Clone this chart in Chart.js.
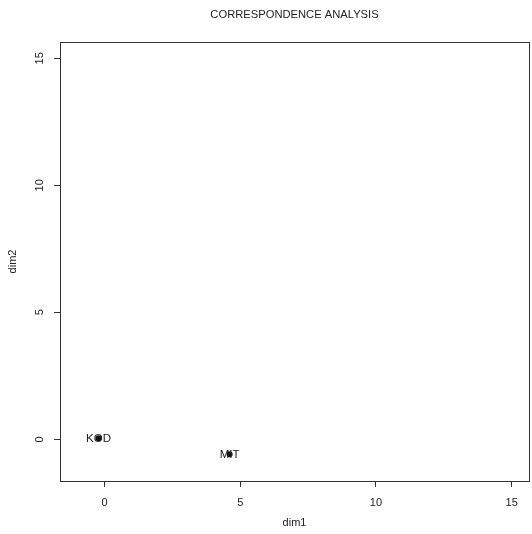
<!DOCTYPE html>
<html>
<head>
<meta charset="utf-8">
<script src="https://cdn.jsdelivr.net/npm/chart.js@4"></script>
<style>
  html, body { margin: 0; padding: 0; background: #fff; }
  #wrap { width: 532px; height: 534px; }
</style>
</head>
<body>
<div id="wrap"><canvas id="chart" width="532" height="534"></canvas></div>
<script>
// Correspondence analysis points
const pointLabels = ['KOD', 'MIT'];
const dim1 = [-0.22, 4.61];
const dim2 = [0.04, -0.59];

// Axis ticks and limits
const xTicks = [0, 5, 10, 15];
const yTicks = [0, 5, 10, 15];
const axisLimits = [-1.64, 15.64];

const inkColor = '#222';
const fontFamily = '"Liberation Sans", Arial, sans-serif';

// frame, title and point labels (R style)
const rPlotExtras = {
    id: 'rPlotExtras',
    afterDatasetsDraw(chart) {
        const ctx = chart.ctx;
        const area = chart.chartArea;
        ctx.save();
        ctx.strokeStyle = '#333';
        ctx.lineWidth = 1;
        ctx.strokeRect(area.left + 0.5, area.top + 0.5, area.right - area.left, area.bottom - area.top);

        ctx.fillStyle = inkColor;
        ctx.font = '11.2px ' + fontFamily;
        ctx.textAlign = 'center';
        ctx.textBaseline = 'middle';
        ctx.fillText('CORRESPONDENCE ANALYSIS', (area.left + area.right) / 2, 15);

        ctx.font = '11.5px ' + fontFamily;
        const meta = chart.getDatasetMeta(0);
        meta.data.forEach((pt, i) => {
            ctx.fillText(pointLabels[i], pt.x, pt.y + 1);
        });
        ctx.restore();
    }
};

new Chart(document.getElementById('chart'), {
    type: 'scatter',
    data: {
        datasets: [{
            data: dim1.map((x, i) => ({ x: x, y: dim2[i] })),
            backgroundColor: '#111',
            borderWidth: 0,
            pointRadius: 3,
            pointHoverRadius: 3
        }]
    },
    options: {
        responsive: false,
        animation: false,
        layout: { padding: { left: 0, top: 42, right: 0, bottom: 0 } },
        plugins: {
            legend: { display: false },
            tooltip: { enabled: false }
        },
        scales: {
            x: {
                type: 'linear',
                min: axisLimits[0],
                max: axisLimits[1],
                afterBuildTicks: (scale) => { scale.ticks = xTicks.map(v => ({ value: v })); },
                afterFit: (scale) => { scale.height = 53; },
                border: { display: false },
                grid: {
                    drawOnChartArea: false,
                    drawTicks: true,
                    tickLength: 6,
                    tickColor: '#333'
                },
                ticks: {
                    color: inkColor,
                    padding: 9,
                    maxRotation: 0,
                    font: { family: fontFamily, size: 11 }
                },
                title: {
                    display: true,
                    text: 'dim1',
                    color: inkColor,
                    padding: 4,
                    font: { family: fontFamily, size: 11 }
                }
            },
            y: {
                type: 'linear',
                min: axisLimits[0],
                max: axisLimits[1],
                afterBuildTicks: (scale) => { scale.ticks = yTicks.map(v => ({ value: v })); },
                afterFit: (scale) => { scale.width = 60; },
                border: { display: false },
                grid: {
                    drawOnChartArea: false,
                    drawTicks: true,
                    tickLength: 6,
                    tickColor: '#333'
                },
                ticks: {
                    color: inkColor,
                    padding: 8,
                    minRotation: 90,
                    maxRotation: 90,
                    crossAlign: 'center',
                    font: { family: fontFamily, size: 11 }
                },
                title: {
                    display: true,
                    text: 'dim2',
                    color: inkColor,
                    padding: 6,
                    font: { family: fontFamily, size: 11 }
                }
            }
        }
    },
    plugins: [rPlotExtras]
});
</script>
</body>
</html>
